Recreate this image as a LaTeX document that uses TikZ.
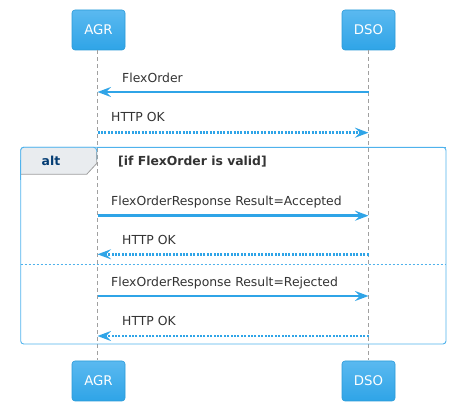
\documentclass[tikz,border=0pt]{standalone}
\usepackage{fontspec}
\setmainfont{DejaVu Sans}
\usetikzlibrary{arrows.meta}
\definecolor{arrblue}{HTML}{2FA4E7}
\definecolor{boxtop}{HTML}{5AB9F0}
\definecolor{boxbot}{HTML}{2FA4E7}
\definecolor{boxline}{HTML}{2A9AD8}
\definecolor{txt}{HTML}{333333}
\definecolor{lifegray}{HTML}{A0A0A0}
\definecolor{tabfill}{HTML}{E9ECEF}
\definecolor{altblue}{HTML}{033C73}
\definecolor{framecol}{HTML}{4FB2EC}
\tikzset{
  participant/.style={rounded corners=3pt, draw=boxline, line width=0.6pt, top color=boxtop, bottom color=boxbot, minimum width=53pt, minimum height=40pt, inner sep=0pt, text=white, font=\fontsize{13.3}{15}\selectfont},
  ptext/.style={anchor=base, inner sep=0pt, text=white, font=\fontsize{13.3}{15}\selectfont},
  lifeline/.style={draw=lifegray, line width=0.8pt, dash pattern=on 4pt off 3pt},
  msg/.style={draw=arrblue, line width=2.8pt, -{Stealth[length=13.5pt,width=10pt,inset=5pt]}},
  reply/.style={draw=arrblue, line width=2.6pt, dash pattern=on 2pt off 1.4pt, -{Stealth[length=13.5pt,width=10pt,inset=5pt]}},
  lbl/.style={anchor=base west, inner sep=0pt, text=txt, font=\fontsize{12.4}{14}\selectfont},
}
\begin{document}
\begin{tikzpicture}[x=1pt,y=-1pt]
\useasboundingbox (0,0) rectangle (458,411);
% participants
\node[participant] (agrT) at (98.5,30) {};
\node[participant] (dsoT) at (368.5,30) {};
\node[participant] (agrB) at (98.5,381) {};
\node[participant] (dsoB) at (368.5,381) {};
\node[ptext] (agrTt) at (98.5,34.3) {AGR};
\node[ptext] (dsoTt) at (368.5,34.3) {DSO};
\node[ptext] (agrBt) at (98.5,385.3) {AGR};
\node[ptext] (dsoBt) at (368.5,385.3) {DSO};
% lifeline coordinates
\coordinate (a1) at (97.5,92);   \coordinate (d1) at (368.5,92);
\coordinate (a2) at (97.5,132.7); \coordinate (d2) at (368.5,132.7);
\coordinate (a3) at (97.5,215.7); \coordinate (d3) at (368.5,215.7);
\coordinate (a4) at (97.5,254.3); \coordinate (d4) at (368.5,254.3);
\coordinate (a5) at (97.5,296);   \coordinate (d5) at (368.5,296);
\coordinate (a6) at (97.5,336);   \coordinate (d6) at (368.5,336);
\draw[lifeline] (97.5,50.5) -- (97.5,360.5);
\draw[lifeline] (368.5,50.5) -- (368.5,360.5);
% alt frame
\draw[draw=framecol, line width=0.9pt, rounded corners=3pt] (20.7,147.3) rectangle (446,344);
\fill[tabfill] (20.7,160) -- (20.7,174.3) -- (86.7,174.3) -- (96.7,163.5) -- (96.7,152) -- (60,152) -- cycle;
\fill[tabfill, rounded corners=3pt] (20.7,174.3) -- (20.7,147.3) -- (96.7,147.3) -- (96.7,160);
\draw[draw=framecol, line width=0.9pt, rounded corners=3pt] (20.7,174.3) -- (20.7,147.3) -- (96.7,147.3) -- (96.7,160);
\draw[draw=lifegray, line width=0.8pt] (20.7,174.3) -- (86.7,174.3) -- (96.7,163.5) -- (96.7,152);
\draw[draw=framecol, line width=0.9pt, rounded corners=3pt] (96.7,147.3) -- (446,147.3);
\draw[draw=framecol, line width=0.9pt] (20.7,160) -- (20.7,180);
\node[anchor=base, inner sep=0pt, text=altblue, font=\fontsize{12.4}{14}\selectfont\bfseries] (alt) at (51,165.5) {alt};
\node[anchor=base west, inner sep=0pt, text=txt, font=\fontsize{12.4}{14}\selectfont\bfseries] (guard) at (118,166) {[if FlexOrder is valid]};
\draw[draw=framecol, line width=0.8pt, dash pattern=on 2pt off 2pt] (20.7,264.3) -- (446,264.3);
% messages
\draw[msg] (d1) -- (a1);
\node[lbl] (m1) at (122,82.3) {FlexOrder};
\draw[reply] (a2) -- (d2);
\node[lbl] (m2) at (111,122) {HTTP OK};
\draw[msg] (a3) -- (d3);
\node[lbl] (m3) at (111,205.7) {FlexOrderResponse Result=Accepted};
\draw[reply] (d4) -- (a4);
\node[lbl] (m4) at (122,244.3) {HTTP OK};
\draw[msg] (a5) -- (d5);
\node[lbl] (m5) at (111,286.7) {FlexOrderResponse Result=Rejected};
\draw[reply] (d6) -- (a6);
\node[lbl] (m6) at (122,325.7) {HTTP OK};
\end{tikzpicture}
\end{document}
